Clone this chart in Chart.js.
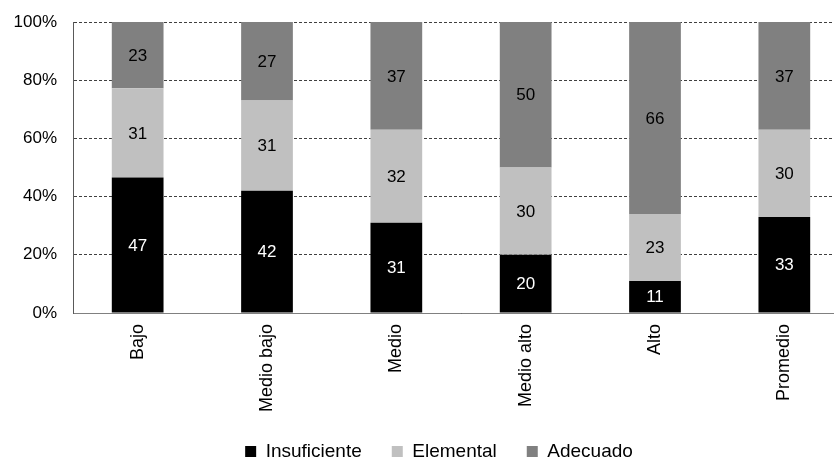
<!DOCTYPE html>
<html>
<head>
<meta charset="utf-8">
<script src="https://cdn.jsdelivr.net/npm/chart.js@4"></script>
<style>
  html, body { margin: 0; padding: 0; background: #fff; overflow: hidden; }
  #wrap { width: 878px; height: 471px; }
</style>
</head>
<body>
<div id="wrap"><canvas id="chart" width="878" height="471"></canvas></div>
<script>
    "use strict";

    // Data
    var categories = ["Bajo", "Medio bajo", "Medio", "Medio alto", "Alto", "Promedio"];
    var insuficiente = [47, 42, 31, 20, 11, 33];
    var elemental = [31, 31, 32, 30, 23, 30];
    var adecuado = [23, 27, 37, 50, 66, 37];
    var yTicks = [0, 20, 40, 60, 80, 100];

    var FONT = "'Liberation Sans', Arial, sans-serif";

    // 100% stacked: share of each bar's total
    function toPercent(values) {
        return values.map(function (v, i) {
            var total = insuficiente[i] + elemental[i] + adecuado[i];
            return v / total * 100;
        });
    }

    // Values written in the middle of each segment
    var segmentLabels = {
        id: "segmentLabels",
        afterDatasetsDraw: function (chart) {
            var ctx = chart.ctx;
            ctx.save();
            ctx.font = "17px " + FONT;
            ctx.textAlign = "center";
            ctx.textBaseline = "middle";
            chart.data.datasets.forEach(function (ds, di) {
                var meta = chart.getDatasetMeta(di);
                meta.data.forEach(function (bar, i) {
                    ctx.fillStyle = ds.labelColor;
                    ctx.fillText(ds.raw[i], bar.x, (bar.y + bar.base) / 2 + 1);
                });
            });
            ctx.restore();
        }
    };

    var ctx = document.getElementById("chart").getContext("2d");
    var myChart = new Chart(ctx, {
        type: "bar",
        data: {
            labels: categories,
            datasets: [{
                label: "Insuficiente",
                data: toPercent(insuficiente),
                raw: insuficiente,
                backgroundColor: "#000000",
                labelColor: "#ffffff"
            },
            {
                label: "Elemental",
                data: toPercent(elemental),
                raw: elemental,
                backgroundColor: "#c0c0c0",
                labelColor: "#000000"
            },
            {
                label: "Adecuado",
                data: toPercent(adecuado),
                raw: adecuado,
                backgroundColor: "#808080",
                labelColor: "#000000"
            }
            ]
        },
        options: {
            responsive: false,
            animation: false,
            layout: { padding: { left: 0, right: 0, top: 22, bottom: 0 } },
            datasets: {
                bar: { barPercentage: 0.4, categoryPercentage: 1.0 }
            },
            scales: {
                x: {
                    stacked: true,
                    grid: { display: false },
                    border: { color: "#808080", width: 1 },
                    ticks: {
                        color: "#000",
                        font: { family: FONT, size: 18 },
                        minRotation: 90,
                        maxRotation: 90,
                        padding: 3
                    },
                    afterFit: function (scale) {
                        scale.height = 99;
                        scale.paddingLeft = 0;
                        scale.paddingRight = 29;
                    }
                },
                y: {
                    stacked: true,
                    min: 0,
                    max: 100,
                    afterBuildTicks: function (scale) {
                        scale.ticks = yTicks.map(function (v) { return { value: v }; });
                    },
                    grid: { color: "#404040", drawTicks: false, lineWidth: 1 },
                    border: { color: "#595959", width: 1, dash: [3, 2] },
                    ticks: {
                        color: "#000",
                        font: { family: FONT, size: 17 },
                        padding: 16,
                        callback: function (v) { return v + "%"; }
                    },
                    afterFit: function (scale) {
                        scale.width = 73;
                        scale.paddingTop = 0;
                        scale.paddingBottom = 0;
                    }
                }
            },
            plugins: {
                legend: {
                    position: "bottom",
                    labels: {
                        color: "#000",
                        font: { family: FONT, size: 19 },
                        boxWidth: 11,
                        boxHeight: 11,
                        padding: 30
                    }
                },
                tooltip: { enabled: false }
            }
        },
        plugins: [segmentLabels]
    });
</script>
</body>
</html>
